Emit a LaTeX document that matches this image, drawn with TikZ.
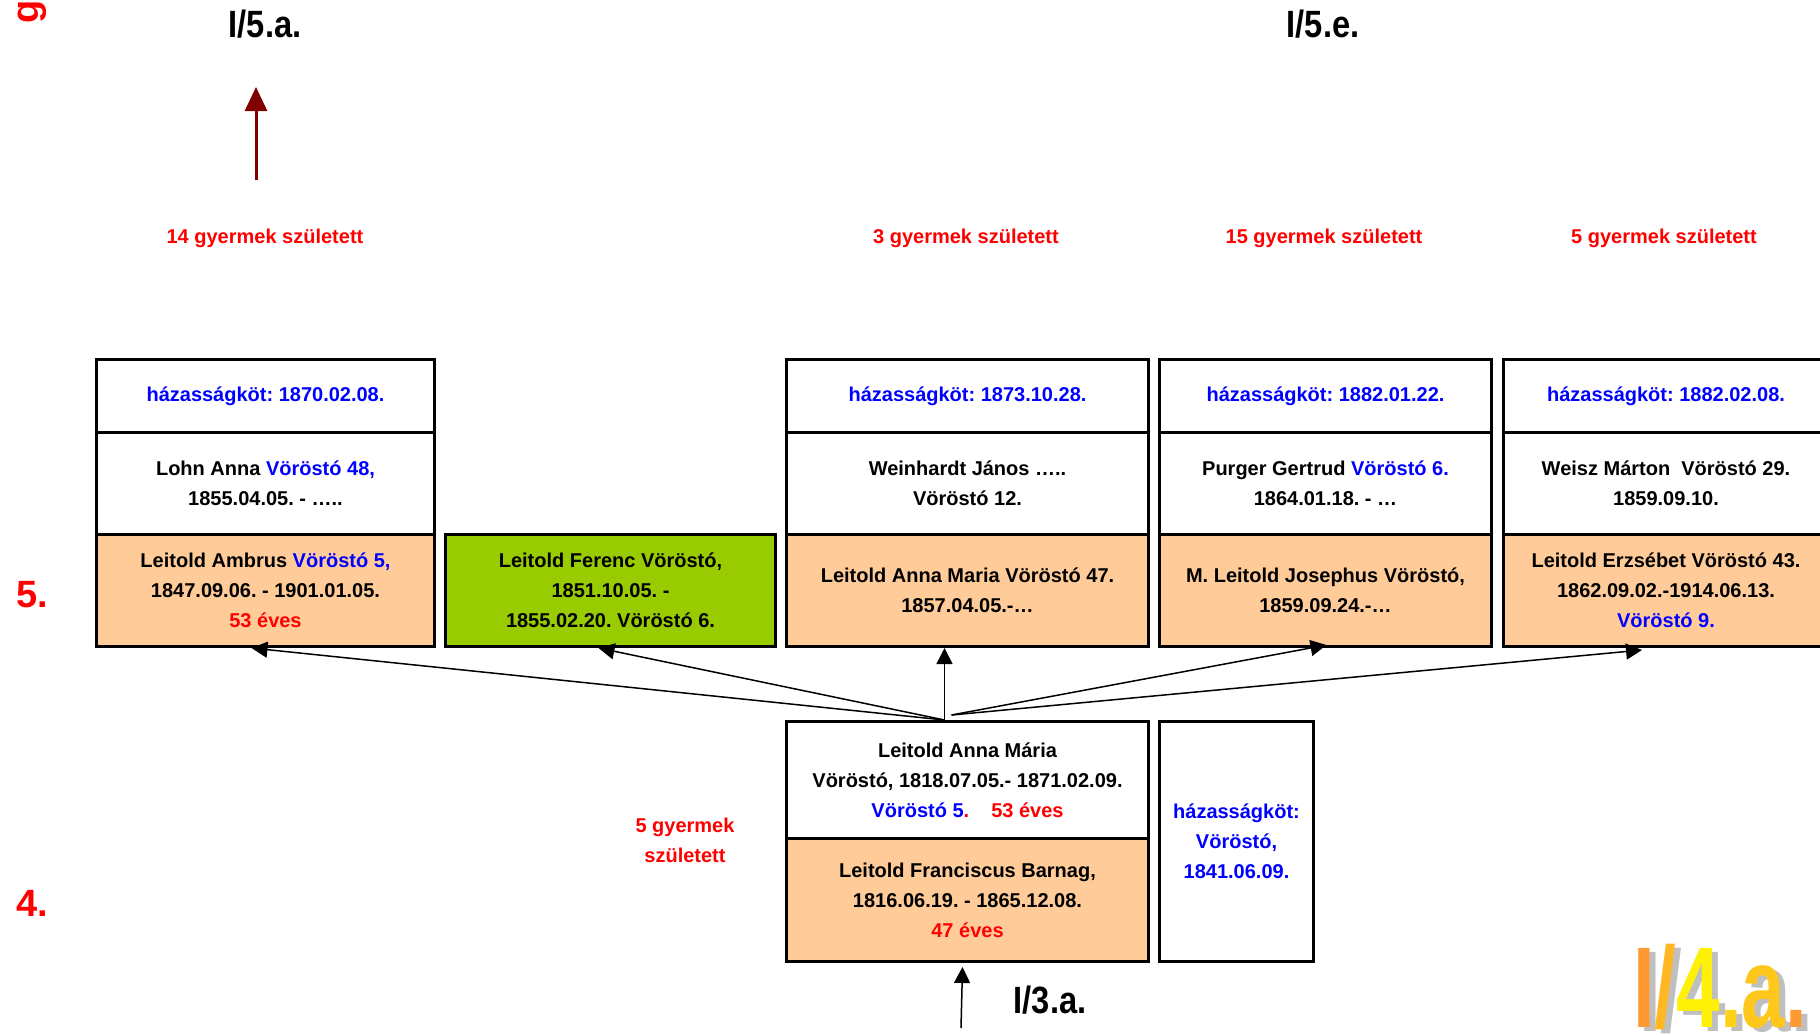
\documentclass[tikz,border=0pt]{standalone}
\usepackage{fontspec}
\setmainfont{Liberation Sans}
\usetikzlibrary{arrows.meta}
\definecolor{barack}{HTML}{FFCC99}
\definecolor{zold}{HTML}{99CC00}
\definecolor{bordo}{HTML}{800000}
\definecolor{narancs}{HTML}{FF9933}
\definecolor{sarga}{HTML}{FFFF00}
\definecolor{arnyek}{HTML}{BFBFBF}
\newcommand{\kek}[1]{\textcolor{blue}{#1}}
\newcommand{\piros}[1]{\textcolor{red}{#1}}
\frenchspacing
\begin{document}
\begin{tikzpicture}[x=1pt,y=-1pt,font=\fontsize{20}{30}\selectfont\bfseries]
    \useasboundingbox (0,0) rectangle (1820,1034);
    \clip (0,0) rectangle (1820,1034);
    \tikzstyle{cell}=[draw, line width=3pt, anchor=north west, align=center, inner sep=0pt]
    \tikzstyle{nagy}=[anchor=base, font=\fontsize{38}{38}\selectfont\bfseries]
    \tikzstyle{nyil}=[-{Triangle[length=16pt,width=16pt]}, line width=1.5pt]
    \tikzstyle{gyermek}=[red, align=center]
    \tikzstyle{logofont}=[anchor=base, inner sep=0pt, text depth=0pt, font=\fontsize{115}{115}\selectfont\bfseries]
    \node[nagy, red, rotate=90, anchor=base west] (gen) at (38,27) {ge};
    \node[nagy, red, anchor=base west] (g5) at (13,607) {5.};
    \node[nagy, red, anchor=base west] (g4) at (13,916) {4.};
    \node[nagy] (i5a) at (265,37) {\scalebox{0.86}[1]{I/5.a.}};
    \node[nagy] (i5e) at (1323,37) {\scalebox{0.86}[1]{I/5.e.}};
    \node[nagy] (i3a) at (1050,1013) {\scalebox{0.86}[1]{I/3.a.}};
    \coordinate (fel1) at (256,180);
    \coordinate (fel2) at (256,87);
    \draw[bordo, line width=3pt, -{Triangle[length=24pt,width=22pt]}] (fel1) -- (fel2);
    \node[gyermek] (gy1) at (265,238) {14 gyermek született};
    \node[gyermek] (gy3) at (966,238) {3 gyermek született};
    \node[gyermek] (gy15) at (1324,238) {15 gyermek született};
    \node[gyermek] (gy5) at (1664,238) {5 gyermek született};
    \node[gyermek] (gyanya) at (685,840) {5 gyermek\\született};
    \node[cell, text=blue, minimum width=338pt, minimum height=73pt] (a1) at (95,358) {házasságköt: 1870.02.08.};
    \node[cell, minimum width=338pt, minimum height=102pt] (a2) at (95,431) {Lohn Anna \kek{Vöröstó 48,}\\1855.04.05. - …..};
    \node[cell, fill=barack, minimum width=338pt, minimum height=112pt] (a3) at (95,533) {Leitold Ambrus \kek{Vöröstó 5,}\\1847.09.06. - 1901.01.05.\\\piros{53 éves}};
    \node[cell, fill=zold, minimum width=330pt, minimum height=112pt] (b) at (444,533) {Leitold Ferenc Vöröstó,\\1851.10.05. -\\1855.02.20. Vöröstó 6.};
    \node[cell, text=blue, minimum width=362pt, minimum height=73pt] (c1) at (785,358) {házasságköt: 1873.10.28.};
    \node[cell, minimum width=362pt, minimum height=102pt] (c2) at (785,431) {Weinhardt János …..\\Vöröstó 12.};
    \node[cell, fill=barack, minimum width=362pt, minimum height=112pt] (c3) at (785,533) {Leitold Anna Maria Vöröstó 47.\\1857.04.05.-…};
    \node[cell, text=blue, minimum width=332pt, minimum height=73pt] (d1) at (1158,358) {házasságköt: 1882.01.22.};
    \node[cell, minimum width=332pt, minimum height=102pt] (d2) at (1158,431) {Purger Gertrud \kek{Vöröstó 6.}\\1864.01.18. - …};
    \node[cell, fill=barack, minimum width=332pt, minimum height=112pt] (d3) at (1158,533) {M. Leitold Josephus Vöröstó,\\1859.09.24.-…};
    \node[cell, text=blue, minimum width=325pt, minimum height=73pt] (e1) at (1502,358) {házasságköt: 1882.02.08.};
    \node[cell, minimum width=325pt, minimum height=102pt] (e2) at (1502,431) {Weisz Márton\ \ Vöröstó 29.\\1859.09.10.};
    \node[cell, fill=barack, minimum width=325pt, minimum height=112pt] (e3) at (1502,533) {Leitold Erzsébet Vöröstó 43.\\1862.09.02.-1914.06.13.\\\kek{Vöröstó 9.}};
    \node[cell, minimum width=362pt, minimum height=117pt] (m) at (785,720) {Leitold Anna Mária\\Vöröstó, 1818.07.05.- 1871.02.09.\\\kek{Vöröstó 5}\piros{.}\hspace{22pt}\piros{53 éves}};
    \node[cell, fill=barack, minimum width=362pt, minimum height=123pt] (f) at (785,837) {Leitold Franciscus Barnag,\\1816.06.19. - 1865.12.08.\\\piros{47 éves}};
    \node[cell, text=blue, minimum width=154pt, minimum height=240pt] (s) at (1158,720) {házasságköt:\\Vöröstó,\\1841.06.09.};
    \coordinate (forras) at ([xshift=-23pt]m.north);
    \coordinate (forrasj) at ([xshift=-16pt,yshift=5pt]m.north);
    \draw[nyil] (forras) -- ([xshift=-14pt]a3.south);
    \draw[nyil] (forras) -- ([xshift=-12pt]b.south);
    \draw[nyil] (forras) -- ([xshift=-23pt]c3.south);
    \draw[nyil] (forrasj) -- ([xshift=1pt,yshift=3pt]d3.south);
    \draw[nyil] (forrasj) -- ([xshift=-24pt,yshift=-2pt]e3.south);
    \coordinate (lent) at (961,1028);
    \draw[nyil] (lent) -- ([xshift=-5pt,yshift=-4pt]f.south);
    \node[logofont, text=arnyek] (logoarnyek) at (1726,1031) {\scalebox{0.68}[1]{I/4.a.}};
    \node[logofont] (logo) at (1720,1027) {\scalebox{0.68}[1]{\textcolor{narancs}{I}\textcolor{narancs!70!sarga}{/}\textcolor{sarga!85!narancs}{4}\textcolor{narancs!45!sarga}{.}\textcolor{narancs!55!sarga}{a}\textcolor{narancs}{.}}};
\end{tikzpicture}
\end{document}
